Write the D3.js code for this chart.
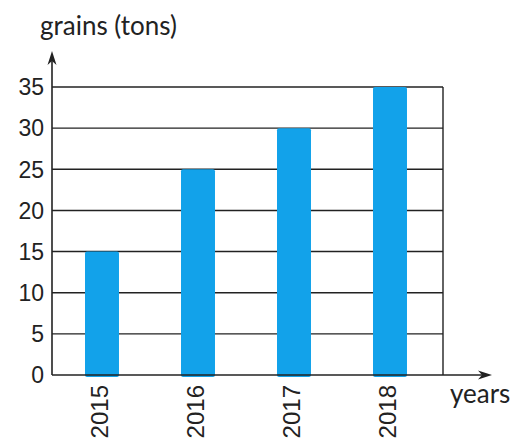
<!DOCTYPE html>
<html><head><meta charset="utf-8">
<script src="https://cdn.jsdelivr.net/npm/d3@7"></script>
<style>body{margin:0;background:#fff}svg{display:block}</style>
</head><body>
<svg id="c" width="515" height="445"></svg>
<script>
const years = ["2015","2016","2017","2018"];
const grains = [15, 25, 30, 35];
const yTicks = [0,5,10,15,20,25,30,35];
const yTitle = "grains (tons)";
const xTitle = "years";

const svg = d3.select("#c");
const x0 = 52, x1 = 443, yBase = 375, yTop = 87;
const x = d3.scaleBand().domain(years).range([54, 438]).paddingInner(0.646).paddingOuter(0.323);
const y = d3.scaleLinear().domain([0, 35]).range([yBase, yTop]);
const ink = "#222";

// grid lines
svg.append("g").selectAll("line").data(yTicks.filter(d => d > 0)).join("line")
  .attr("x1", x0).attr("x2", x1).attr("y1", d => y(d)).attr("y2", d => y(d))
  .attr("stroke", ink).attr("stroke-width", 1.4);
// right border
svg.append("line").attr("x1", x1).attr("x2", x1).attr("y1", y(35)).attr("y2", y(0))
  .attr("stroke", ink).attr("stroke-width", 1.4);

// bars
svg.append("g").selectAll("rect").data(grains).join("rect")
  .attr("x", (d, i) => x(years[i])).attr("width", x.bandwidth())
  .attr("y", d => y(d)).attr("height", d => y(0) - y(d) + 2)
  .attr("rx", 2)
  .attr("fill", "#12a2ea");

// axes
svg.append("line").attr("x1", x0).attr("x2", x0).attr("y1", yBase).attr("y2", 58)
  .attr("stroke", ink).attr("stroke-width", 1.6);
svg.append("line").attr("x1", x0).attr("x2", 484).attr("y1", yBase).attr("y2", yBase)
  .attr("stroke", ink).attr("stroke-width", 1.6);
svg.append("path").attr("d", `M${x0},51 L${x0-4.5},65 L${x0},61 L${x0+4.5},65 Z`).attr("fill", ink);
svg.append("path").attr("d", `M492,${yBase} L478,${yBase-4.5} L482,${yBase} L478,${yBase+4.5} Z`).attr("fill", ink);

// y tick labels
svg.append("g").selectAll("text").data(yTicks).join("text")
  .attr("x", 44).attr("y", d => y(d)).attr("dy", "0.36em")
  .attr("text-anchor", "end")
  .attr("font-family", "Liberation Sans, Arial, sans-serif").attr("font-size", 23)
  .attr("fill", ink).text(d => d);

// x labels rotated
svg.append("g").selectAll("text").data(years).join("text")
  .attr("transform", d => `translate(${x(d) + x.bandwidth()/2 + 5.5},385) rotate(-90)`)
  .attr("text-anchor", "end")
  .attr("font-family", "Liberation Sans, Arial, sans-serif").attr("font-size", 24)
  .attr("fill", ink).text(d => d);

// titles
svg.append("text").attr("x", 40).attr("y", 35)
  .attr("font-family", "Lato, sans-serif").attr("font-size", 26).attr("fill", ink)
  .text(yTitle);
svg.append("text").attr("x", 450).attr("y", 403)
  .attr("font-family", "Lato, sans-serif").attr("font-size", 26).attr("fill", ink)
  .text(xTitle);
</script>
</body></html>
